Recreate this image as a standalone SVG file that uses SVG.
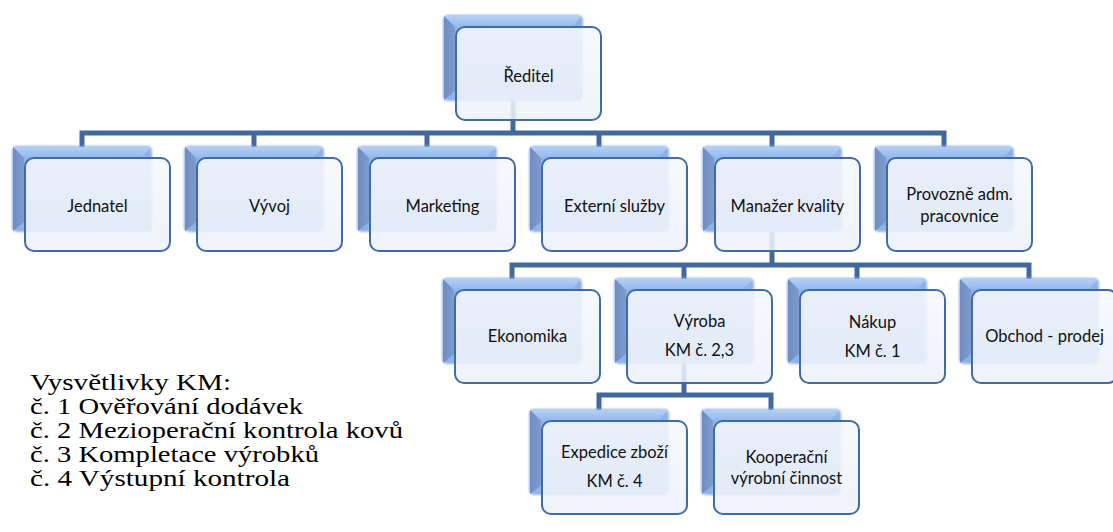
<svg xmlns="http://www.w3.org/2000/svg" xmlns:xlink="http://www.w3.org/1999/xlink" width="1113" height="532" viewBox="0 0 1113 532">
<style>
.conn{fill:none;stroke:#41699d;stroke-width:5;stroke-linejoin:miter;stroke-linecap:butt}
.lbl{font-family:Lato,"Open Sans","DejaVu Sans",sans-serif;font-size:16.5px;fill:#111111;text-anchor:middle}
.leg{font-family:"Liberation Serif","Times New Roman",serif;font-size:23.5px;fill:#000}
</style>
<defs>
<linearGradient id="gTop" x1="0" y1="0" x2="0" y2="1"><stop offset="0" stop-color="#b4cff5"/><stop offset="1" stop-color="#93b7ec"/></linearGradient>
<linearGradient id="gLeft" x1="0" y1="0" x2="1" y2="0"><stop offset="0" stop-color="#6f8dc0"/><stop offset="1" stop-color="#7d9bcf"/></linearGradient>
<linearGradient id="gFront" x1="0" y1="0" x2="0" y2="1"><stop offset="0" stop-color="#f5f8fd"/><stop offset="1" stop-color="#edf1fa"/></linearGradient>
<filter id="soft" x="-10%" y="-10%" width="120%" height="120%"><feGaussianBlur stdDeviation="0.9"/></filter>
<g id="back">
<rect x="0" y="0" width="140" height="86" rx="5" fill="#8fb3e6" filter="url(#soft)"/>
<polygon points="1,1 139,1 129,12 12,12" fill="url(#gTop)"/>
<polygon points="1,1 12,12 12,76 1,85" fill="url(#gLeft)"/>
</g>
<g id="front">
<rect x="13" y="12" width="145" height="93" rx="9" fill="url(#gFront)" fill-opacity="0.88" stroke="#3f6ba6" stroke-width="2"/>
</g>
</defs>
<rect width="1113" height="532" fill="#ffffff"/>

<g id="connectors">
<path class="conn" d="M513 60 V133"/>
<path class="conn" d="M82 150 V133 H944 V150"/>
<path class="conn" d="M254 133 V150 M427 133 V150 M599 133 V150 M772 133 V190"/>
<path class="conn" d="M772 190 V265"/>
<path class="conn" d="M512 282 V265 H1029 V282"/>
<path class="conn" d="M684 265 V282 M857 265 V282"/>
<path class="conn" d="M684 320 V395"/>
<path class="conn" d="M599 412 V395 H771 V412"/>
</g>

<g id="node-reditel" transform="translate(443,15)"><use xlink:href="#back"/><use xlink:href="#front"/><text class="lbl" x="85.5" y="67">Ředitel</text></g>

<g id="node-jednatel" transform="translate(12,146)"><use xlink:href="#back"/><use xlink:href="#front"/><text class="lbl" x="85.5" y="66">Jednatel</text></g>
<g id="node-vyvoj" transform="translate(184,146)"><use xlink:href="#back"/><use xlink:href="#front"/><text class="lbl" x="85.5" y="66">Vývoj</text></g>
<g id="node-marketing" transform="translate(357,146)"><use xlink:href="#back"/><use xlink:href="#front"/><text class="lbl" x="85.5" y="66">Marketing</text></g>
<g id="node-externi" transform="translate(529,146)"><use xlink:href="#back"/><use xlink:href="#front"/><text class="lbl" x="85.5" y="66">Externí služby</text></g>
<g id="node-manazer" transform="translate(702,146)"><use xlink:href="#back"/><use xlink:href="#front"/><text class="lbl" x="85.5" y="66">Manažer kvality</text></g>
<g id="node-provozne" transform="translate(874,146)"><use xlink:href="#back"/><use xlink:href="#front"/><text class="lbl" x="85.5" y="54">Provozně adm.</text><text class="lbl" x="85.5" y="76">pracovnice</text></g>

<g id="node-ekonomika" transform="translate(442,278)"><use xlink:href="#back"/><use xlink:href="#front"/><text class="lbl" x="85.5" y="64">Ekonomika</text></g>
<g id="node-vyroba" transform="translate(614,278)"><use xlink:href="#back"/><use xlink:href="#front"/><text class="lbl" x="85.5" y="49">Výroba</text><text class="lbl" x="85.5" y="78">KM č. 2,3</text></g>
<g id="node-nakup" transform="translate(787,278)"><use xlink:href="#back"/><use xlink:href="#front"/><text class="lbl" x="85.5" y="50">Nákup</text><text class="lbl" x="85.5" y="79">KM č. 1</text></g>
<g id="node-obchod" transform="translate(959,278)"><use xlink:href="#back"/><use xlink:href="#front"/><text class="lbl" x="85.5" y="64">Obchod - prodej</text></g>

<g id="node-expedice" transform="translate(529,409)"><use xlink:href="#back"/><use xlink:href="#front"/><text class="lbl" x="85.5" y="49">Expedice zboží</text><text class="lbl" x="85.5" y="78">KM č. 4</text></g>
<g id="node-kooperacni" transform="translate(701,409)"><use xlink:href="#back"/><use xlink:href="#front"/><text class="lbl" x="85.5" y="54">Kooperační</text><text class="lbl" x="85.5" y="75">výrobní činnost</text></g>

<g id="legend">
<text class="leg" x="30" y="390" textLength="201" lengthAdjust="spacingAndGlyphs">Vysvětlivky KM:</text>
<text class="leg" x="30" y="414" textLength="273" lengthAdjust="spacingAndGlyphs">č. 1 Ověřování dodávek</text>
<text class="leg" x="30" y="438" textLength="373" lengthAdjust="spacingAndGlyphs">č. 2 Mezioperační kontrola kovů</text>
<text class="leg" x="30" y="462" textLength="289" lengthAdjust="spacingAndGlyphs">č. 3 Kompletace výrobků</text>
<text class="leg" x="30" y="486" textLength="260" lengthAdjust="spacingAndGlyphs">č. 4 Výstupní kontrola</text>
</g>
</svg>
